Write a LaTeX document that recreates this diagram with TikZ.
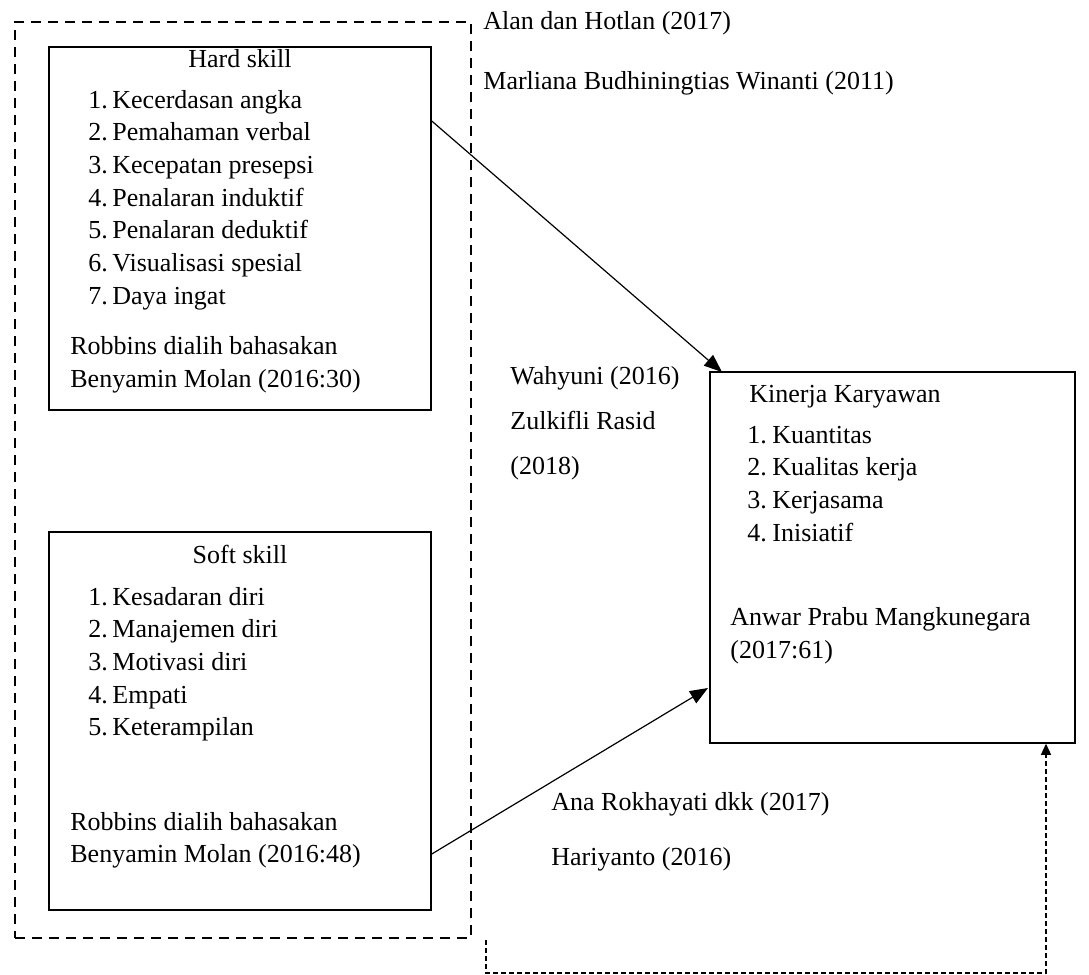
\documentclass[tikz,border=0pt]{standalone}
\usepackage{fontspec}
\setmainfont{Liberation Serif}
\usetikzlibrary{arrows.meta}
\begin{document}
\begin{tikzpicture}[x=0.5pt,y=-0.5pt,
  txt/.style={inner sep=0pt,anchor=base west,font=\fontsize{13}{16}\selectfont},
  ctxt/.style={inner sep=0pt,anchor=base,font=\fontsize{13}{16}\selectfont},
  box/.style={draw,line width=0.75pt,inner sep=0pt},
  outer/.style={draw,line width=1.3pt,dash pattern=on 5pt off 3.5pt},
  arr/.style={line width=0.6pt,-{Triangle[length=9pt,width=7pt]}},
  darr/.style={line width=0.6pt,dash pattern=on 2.5pt off 1.5pt,-{Triangle[length=5.5pt,width=5pt]}}]
\useasboundingbox (0,0) rectangle (1089,975);
% boxes
\node[outer,minimum width=228pt,minimum height=458pt] (outerbox) at (243,480) {};
\node[box,minimum width=191pt,minimum height=181.5pt] (hard) at (240,228.5) {};
\node[box,minimum width=191pt,minimum height=189pt] (soft) at (240,721) {};
\node[box,minimum width=182.5pt,minimum height=185.5pt] (kin) at (892.5,557.5) {};
% hard skill
\node[ctxt] (ht) at (240,67) {Hard skill};
\foreach \t [count=\i] in {Kecerdasan angka,Pemahaman verbal,Kecepatan presepsi,Penalaran induktif,Penalaran deduktif,Visualisasi spesial,Daya ingat}{
  \node[txt] (hn\i) at (88,{108+(\i-1)*32.7}) {\i.};
  \node[txt] (h\i) at (112,{108+(\i-1)*32.7}) {\t};
}
\node[txt] (hr1) at (70,354) {Robbins dialih bahasakan};
\node[txt] (hr2) at (70,387) {Benyamin Molan (2016:30)};
% soft skill
\node[ctxt] (st) at (240,563) {Soft skill};
\foreach \t [count=\i] in {Kesadaran diri,Manajemen diri,Motivasi diri,Empati,Keterampilan}{
  \node[txt] (sn\i) at (88,{605+(\i-1)*32.7}) {\i.};
  \node[txt] (s\i) at (112,{605+(\i-1)*32.7}) {\t};
}
\node[txt] (sr1) at (70,830) {Robbins dialih bahasakan};
\node[txt] (sr2) at (70,862) {Benyamin Molan (2016:48)};
% kinerja
\node[ctxt] (kt) at (845,402) {Kinerja Karyawan};
\foreach \t [count=\i] in {Kuantitas,Kualitas kerja,Kerjasama,Inisiatif}{
  \node[txt] (kn\i) at (747,{443+(\i-1)*32.7}) {\i.};
  \node[txt] (k\i) at (772,{443+(\i-1)*32.7}) {\t};
}
\node[txt] (kr1) at (730,625) {Anwar Prabu Mangkunegara};
\node[txt] (kr2) at (730,658) {(2017:61)};
% outside labels
\node[txt] (l1) at (483,29) {Alan dan Hotlan (2017)};
\node[txt] (l2) at (483,89) {Marliana Budhiningtias Winanti (2011)};
\node[txt] (l3) at (510,384) {Wahyuni (2016)};
\node[txt] (l4) at (510,429) {Zulkifli Rasid};
\node[txt] (l5) at (510,474) {(2018)};
\node[txt] (l6) at (551,810) {Ana Rokhayati dkk (2017)};
\node[txt] (l7) at (551,865) {Hariyanto (2016)};
% connectors
\coordinate (a1s) at (hard.east |- 0,121);
\coordinate (a1e) at (722,372);
\draw[arr] (a1s) -- (a1e);
\coordinate (a2s) at (soft.east |- 0,854);
\coordinate (a2e) at (708,688);
\draw[arr] (a2s) -- (a2e);
\coordinate (d1) at (486,940);
\coordinate (d2) at (486,973);
\coordinate (d3) at (1046,973);
\draw[darr] (d1) -- (d2) -- (d3) -- (d3 |- kin.south);
\end{tikzpicture}
\end{document}
